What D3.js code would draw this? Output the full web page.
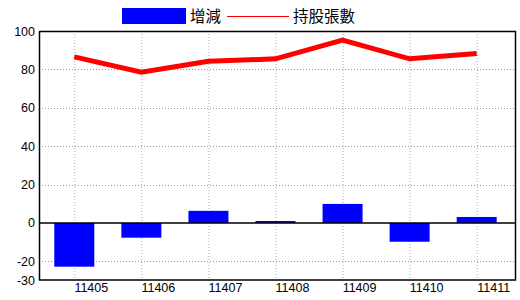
<!DOCTYPE html>
<html>
<head>
<meta charset="utf-8">
<script src="https://cdn.jsdelivr.net/npm/d3@7"></script>
<style>
  html, body { margin: 0; padding: 0; background: #fff; }
  svg text { font-family: "Liberation Sans Narrow", "Liberation Sans", sans-serif; }
</style>
</head>
<body>
<div id="chart"></div>
<script>
// Months (ROC year + month)
const months = ['11405', '11406', '11407', '11408', '11409', '11410', '11411'];
// 增減 (bars)
const changes = [-22.8, -7.7, 6.3, 1.0, 9.9, -9.8, 3.1];
// 持股張數 (line)
const holdings = [86.5, 78.5, 84.2, 85.5, 95.2, 85.5, 88.3];
// y axis ticks
const yTicks = [100, 80, 60, 40, 20, 0, -20, -30];

const width = 520, height = 300;
const plot = { left: 39, right: 516, top: 31, bottom: 280.5 };

const svg = d3.select('#chart')
  .append('svg')
    .attr('width', width)
    .attr('height', height);

const x = d3.scalePoint()
  .domain(months)
  .range([74.3, 476.7]);

const y = d3.scaleLinear()
  .domain([-30, 100])
  .range([plot.bottom, plot.top]);

// vertical dotted grid
svg.append('g')
  .selectAll('line')
  .data(months)
  .join('line')
    .attr('x1', d => x(d) + 0.5).attr('x2', d => x(d) + 0.5)
    .attr('y1', plot.top).attr('y2', plot.bottom)
    .attr('stroke', '#8fb4cc')
    .attr('stroke-dasharray', '1,2');

// horizontal dotted grid (0 is drawn solid, ends sit on the border)
svg.append('g')
  .selectAll('line')
  .data(yTicks.filter(d => d !== 0 && d !== 100 && d !== -30))
  .join('line')
    .attr('x1', plot.left).attr('x2', plot.right)
    .attr('y1', d => Math.round(y(d)) + 0.5).attr('y2', d => Math.round(y(d)) + 0.5)
    .attr('stroke', '#999')
    .attr('stroke-dasharray', '1,2');

// bars
const barW = 40;
svg.append('g')
  .selectAll('rect')
  .data(months.map((m, i) => ({ m, v: changes[i] })))
  .join('rect')
    .attr('x', d => x(d.m) - barW / 2)
    .attr('width', barW)
    .attr('y', d => y(Math.max(0, d.v)))
    .attr('height', d => Math.abs(y(d.v) - y(0)))
    .attr('fill', '#0000ff');

// zero line
svg.append('line')
  .attr('x1', plot.left).attr('x2', plot.right)
  .attr('y1', y(0)).attr('y2', y(0))
  .attr('stroke', '#000')
  .attr('stroke-width', 1.5);

// holdings line
const line = d3.line()
  .x((d, i) => x(months[i]))
  .y(d => y(d));
svg.append('path')
  .datum(holdings)
  .attr('d', line)
  .attr('fill', 'none')
  .attr('stroke', '#ff0000')
  .attr('stroke-width', 5);

// plot border
svg.append('rect')
  .attr('x', plot.left + 0.5).attr('y', plot.top + 0.5)
  .attr('width', plot.right - plot.left - 1)
  .attr('height', plot.bottom - plot.top - 1)
  .attr('fill', 'none')
  .attr('stroke', '#000')
  .attr('stroke-width', 1.5);

// y labels
svg.append('g')
  .selectAll('text')
  .data(yTicks)
  .join('text')
    .attr('x', 35)
    .attr('y', d => y(d) + 4.5)
    .attr('text-anchor', 'end')
    .attr('font-size', 12.5)
    .text(d => d);

// x labels
svg.append('g')
  .selectAll('text')
  .data(months)
  .join('text')
    .attr('x', d => x(d) + 17)
    .attr('y', 292)
    .attr('text-anchor', 'middle')
    .attr('font-size', 12.5)
    .text(d => d);

// legend
const legend = svg.append('g');
legend.append('rect')
  .attr('x', 122).attr('y', 8)
  .attr('width', 64).attr('height', 16)
  .attr('fill', '#0000ff');
legend.append('text')
  .attr('x', 190).attr('y', 22)
  .attr('font-size', 15.5)
  .style('font-family', '"Noto Sans CJK TC", sans-serif')
  .text('增減');
legend.append('line')
  .attr('x1', 227).attr('x2', 289)
  .attr('y1', 16.5).attr('y2', 16.5)
  .attr('stroke', '#ff0000');
legend.append('text')
  .attr('x', 293).attr('y', 22)
  .attr('font-size', 15.5)
  .style('font-family', '"Noto Sans CJK TC", sans-serif')
  .text('持股張數');
</script>
</body>
</html>
